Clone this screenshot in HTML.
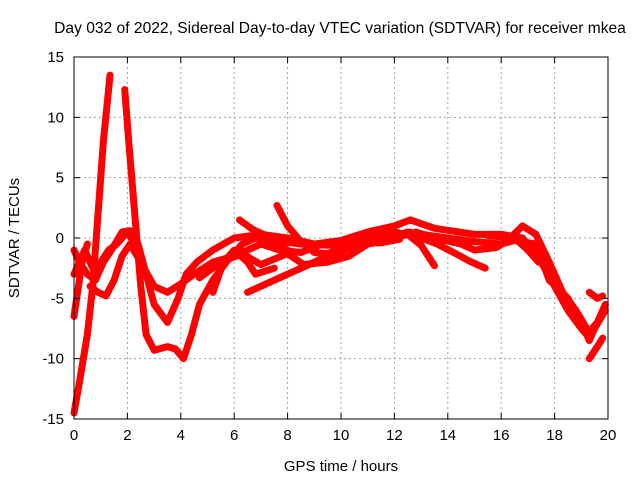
<!DOCTYPE html>
<html><head><meta charset="utf-8"><style>
body{margin:0;background:#fff}
svg{display:block;font-family:"Liberation Sans",sans-serif}
</style></head><body>
<svg id="chart" width="640" height="480">
<rect width="640" height="480" fill="#fff"/>
<text x="340" y="33" text-anchor="middle" font-size="15.6">Day 032 of 2022, Sidereal Day-to-day VTEC variation (SDTVAR) for receiver mkea</text>
<text x="341" y="471" text-anchor="middle" font-size="15">GPS time / hours</text>
<text transform="translate(19,238) rotate(-90)" text-anchor="middle" font-size="15">SDTVAR / TECUs</text>
<g id="grid"></g><g id="series"></g><g id="ticks"></g>
<rect x="74" y="57" width="534" height="362" fill="none" stroke="#000" stroke-width="1"/>
</svg>
<script>
const xTicks=[0,2,4,6,8,10,12,14,16,18,20];
const yTicks=[-15,-10,-5,0,5,10,15];
const sA=[[0,-14.5],[0.2,-12],[0.5,-8],[0.7,-4],[0.9,2],[1.1,8],[1.35,13.5]];
const sB=[[1.9,12.3],[2.05,8],[2.2,4],[2.35,0],[2.5,-4],[2.7,-8],[3,-9.3],[3.5,-9],[3.8,-9.2],[4.1,-10],[4.4,-8],[4.7,-5.5],[5.2,-3.5],[5.7,-2],[6.3,-0.5],[6.8,0],[7.4,-0.3],[8,-1]];
const sC=[[0,-1],[0.2,-2],[0.5,-3],[0.8,-3.5],[1.1,-2],[1.4,-1],[1.8,0.5],[2.1,0.6],[2.4,-0.5],[2.7,-3],[3,-5.5],[3.5,-7],[3.9,-5],[4.2,-3],[4.6,-2],[5.2,-1],[6,0],[7,0.3],[8,0],[9,-0.5],[10,-0.2],[11,0.5],[12,1],[12.6,1.5],[13.5,0.8],[15,0.3],[16,0.3],[16.8,0],[17.5,-2],[18,-4],[18.5,-6],[19,-7.5],[19.2,-8],[19.6,-7],[19.9,-5.5]];
const sD=[[0.6,-4],[0.9,-4.5],[1.2,-4.8],[1.5,-3.5],[1.8,-1.5],[2.1,-0.5],[2.5,-2],[3,-4],[3.5,-4.5],[4,-3.8],[4.5,-3],[5.2,-2],[6,-1.5],[6.5,-1],[7,-0.5],[7.7,-1],[8.5,-1.2],[9.3,-0.5],[10,-0.3],[11,0],[12,0.5],[13,0],[13.6,-0.5],[14.3,-1.3],[14.8,-1.9],[15.4,-2.5]];
const sE=[[6.2,1.5],[6.7,0.7],[7.2,0.2],[7.8,-0.3],[8.5,-0.5],[9.5,-0.6],[10.5,-0.4],[11.5,-0.4],[12.2,-0.1]];
const sF=[[7.6,2.7],[8,1],[8.5,-0.3],[9,-1.2],[9.5,-1.3],[10.3,-0.5],[11,-0.3],[12,0],[12.5,0.3],[13,-0.6],[13.5,-2.3]];
const sG=[[4.7,-3.3],[5.5,-2],[6.3,-1.3],[7,-2.2],[8,-1.3],[8.6,-2.2],[9.5,-2],[10.3,-1.5],[11,-0.5]];
const sH=[[5.2,-4.5],[5.6,-2],[6,-1],[6.5,-2],[6.8,-3],[7.5,-2.5]];
const sI=[[6.5,-4.5],[7.5,-3.5],[8.5,-2.5],[9.5,-1.5],[10.5,-0.7],[11.5,-0.3],[12.5,0.5],[13,0.3],[14,0],[15,-0.3],[16,-0.5],[16.5,-0.2],[17.3,-0.5],[17.8,-3.5],[18.5,-5],[19,-7],[19.3,-8.5],[19.5,-7.5],[19.9,-6]];
const sJ=[[12.8,0.5],[13.5,0],[14.5,-0.5],[15,-1],[15.8,-0.8],[16.2,-0.3],[16.8,1],[17.3,0.3],[17.8,-2],[18.3,-4.5],[18.8,-6],[19.2,-7.5]];
const sK=[[15.5,0.2],[16.5,0],[17,-1],[17.4,-2]];
const sL=[[19.3,-4.5],[19.6,-5],[19.8,-4.8]];
const sM=[[19.3,-10],[19.6,-9],[19.8,-8.3]];
const sN=[[0,-3],[0.4,-1],[0.7,-2.5],[1,-2],[1.3,-1],[1.6,-0.5],[2,0.5],[2.4,-1]];
const sO=[[0,-6.5],[0.3,-2],[0.5,-0.5]];
const allSeries=[sA,sB,sC,sD,sE,sF,sG,sH,sI,sJ,sK,sL,sM,sN,sO];
const NS="http://www.w3.org/2000/svg";
const X0=74,X1=608,Y0=419,Y1=57;
function xs(h){return X0+(h-0)/(20-0)*(X1-X0);}
function ys(v){return Y0-(v+15)/30*(Y0-Y1);}
const grid=document.getElementById('grid'),ticks=document.getElementById('ticks'),ser=document.getElementById('series');
function mk(tag,attrs,parent){const e=document.createElementNS(NS,tag);for(const k in attrs)e.setAttribute(k,attrs[k]);parent.appendChild(e);return e;}
xTicks.forEach(t=>{const x=xs(t);
 if(t>0&&t<20){const g=mk('line',{x1:x,x2:x,y1:Y1,y2:Y0,stroke:'#a0a0a0','stroke-dasharray':'2,3'},grid);
 
 }
 mk('line',{x1:x,x2:x,y1:Y0,y2:Y0-6,stroke:'#000'},ticks);mk('line',{x1:x,x2:x,y1:Y1,y2:Y1+6,stroke:'#000'},ticks);
 const l=mk('text',{x:x,y:Y0+21,'text-anchor':'middle','font-size':'15'},ticks);l.textContent=t;
 
 });
yTicks.forEach(t=>{const y=ys(t);
 if(t>-15&&t<15){const g=mk('line',{x1:X0,x2:X1,y1:y,y2:y,stroke:'#a0a0a0','stroke-dasharray':'2,3'},grid);
 
 }
 mk('line',{x1:X0,x2:X0+6,y1:y,y2:y,stroke:'#000'},ticks);mk('line',{x1:X1,x2:X1-6,y1:y,y2:y,stroke:'#000'},ticks);
 const l=mk('text',{x:X0-10,y:y+5,'text-anchor':'end','font-size':'15'},ticks);l.textContent=t;
 
 });
allSeries.forEach((s,i)=>{
 const p=mk('polyline',{points:s.map(d=>xs(d[0])+','+ys(d[1])).join(' '),fill:'none',stroke:'#f00','stroke-width':'7','stroke-linejoin':'round','stroke-linecap':'round'},ser);
 
 });
</script>
</body></html>
